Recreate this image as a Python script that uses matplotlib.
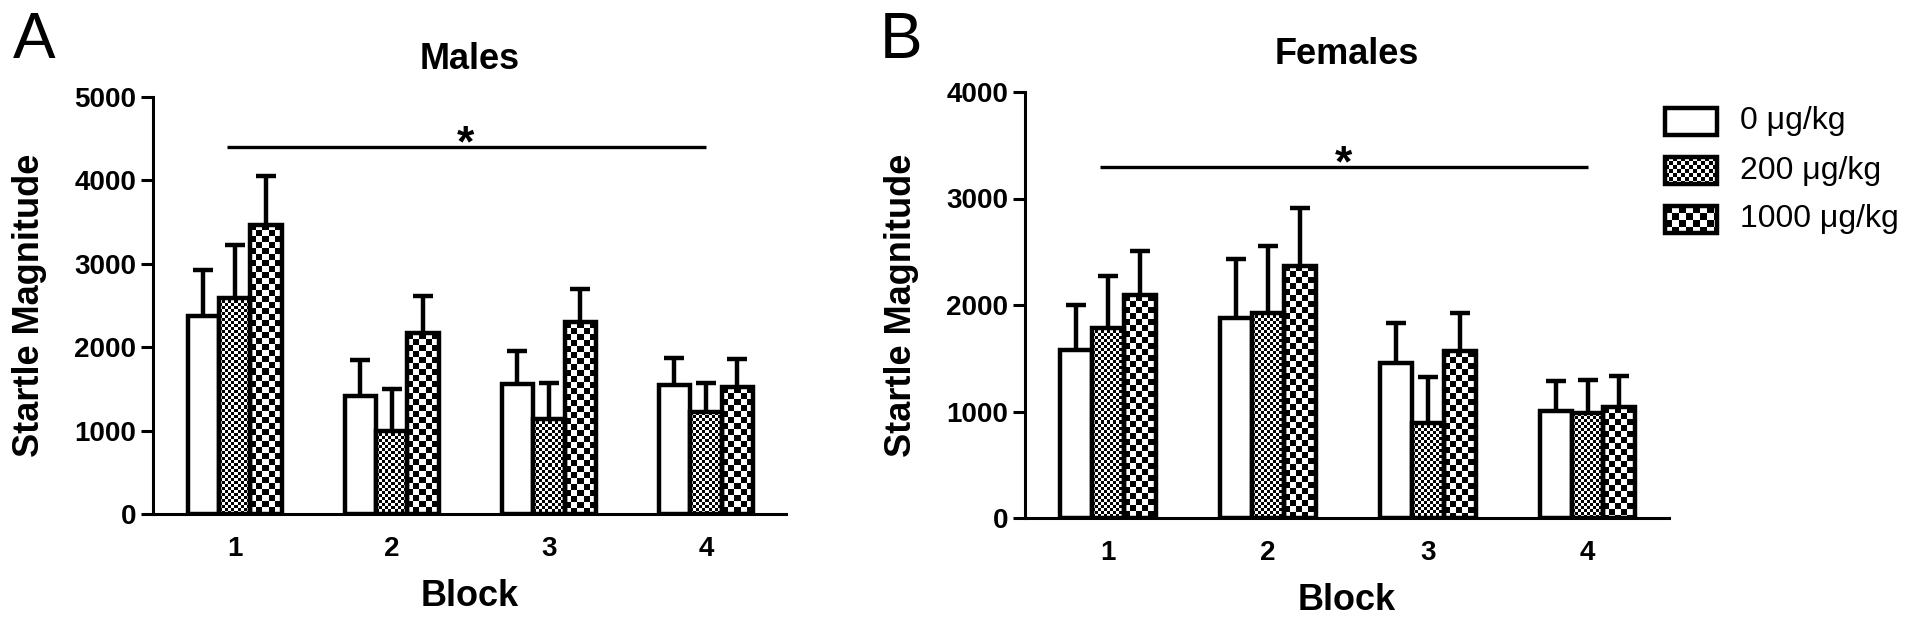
import numpy as np
import matplotlib
matplotlib.use('Agg')
import matplotlib.pyplot as plt
from matplotlib.patches import Rectangle

# data (mean and upper SEM)
blocks = np.array([1, 2, 3, 4])
dose_labels = ['0 μg/kg', '200 μg/kg', '1000 μg/kg']

male_0 = [2380, 1410, 1560, 1550]
male_200 = [2590, 1000, 1140, 1220]
male_1000 = [3470, 2170, 2300, 1520]
male_0_sem = [550, 435, 390, 320]
male_200_sem = [630, 500, 435, 355]
male_1000_sem = [580, 445, 395, 335]

female_0 = [1575, 1880, 1460, 1005]
female_200 = [1785, 1925, 895, 985]
female_1000 = [2090, 2370, 1565, 1040]
female_0_sem = [425, 555, 370, 285]
female_200_sem = [485, 630, 425, 315]
female_1000_sem = [420, 545, 360, 290]

plt.rcParams['font.family'] = ['Liberation Sans', 'DejaVu Sans']

fig = plt.figure(figsize=(19.2, 6.21), dpi=100)

offsets = [-0.2, 0.0, 0.2]
cells = [None, 3, 6]  # checker size in px: none / fine / coarse
LW = 3.2


def checker(w, h, cell):
    yy, xx = np.mgrid[0:h, 0:w]
    return ((xx // cell + yy // cell) % 2).astype(float)


def texture_bar(ax, bar, cell):
    x0 = bar.get_x()
    x1 = x0 + bar.get_width()
    y1 = bar.get_height()
    p0 = ax.transData.transform((x0, 0))
    p1 = ax.transData.transform((x1, y1))
    w = max(1, int(round(p1[0] - p0[0])))
    h = max(1, int(round(p1[1] - p0[1])))
    ax.imshow(checker(w, h, cell), cmap='gray', vmin=0, vmax=1,
              extent=(x0, x1, 0, y1), aspect='auto',
              interpolation='nearest', zorder=2)


def plot_panel(ax, means, sems, title, ymax, sig_y, star_y):
    ax.set_xlim(0.48, 4.51)
    ax.set_ylim(0, ymax)
    for i in range(3):
        xs = blocks + offsets[i]
        bars = ax.bar(xs, means[i], width=0.2, color='white', edgecolor='none', zorder=1)
        if cells[i]:
            for b in bars:
                texture_bar(ax, b, cells[i])
        ax.bar(xs, means[i], width=0.2, fill=False, edgecolor='black',
               linewidth=LW, zorder=3)
        eb = ax.errorbar(xs, means[i], yerr=[np.zeros(len(xs)), sems[i]], fmt='none',
                         ecolor='black', elinewidth=LW, capsize=7.5, capthick=LW,
                         zorder=2.5)
        eb[1][0].set_visible(False)
    # significance line + star
    ax.plot([0.95, 4.0], [sig_y, sig_y], color='black', lw=2.4, solid_capstyle='butt')
    ax.text(2.47, star_y, '*', ha='center', va='baseline', fontsize=32, fontweight='bold')

    ax.set_xlim(0.48, 4.51)
    ax.set_ylim(0, ymax)
    ax.set_yticks(np.arange(0, ymax + 1, 1000))
    ax.set_xticks(blocks)
    ax.spines['top'].set_visible(False)
    ax.spines['right'].set_visible(False)
    ax.spines['left'].set_linewidth(2.2)
    ax.spines['bottom'].set_linewidth(2.2)
    ax.tick_params(axis='y', length=9, width=2.2, pad=3, labelsize=20)
    ax.tick_params(axis='x', length=0, pad=16, labelsize=20)
    for lab in ax.get_xticklabels() + ax.get_yticklabels():
        lab.set_fontweight('bold')
    ax.set_title(title, fontsize=26, fontweight='bold', pad=20)
    ax.set_xlabel('Block', fontsize=26, fontweight='bold', labelpad=12)
    ax.set_ylabel('Startle Magnitude', fontsize=26, fontweight='bold', labelpad=20)


ax1 = fig.add_axes([153 / 1920, 107 / 621, 633 / 1920, 417 / 621])
plot_panel(ax1, [male_0, male_200, male_1000],
           [male_0_sem, male_200_sem, male_1000_sem],
           'Males', 5000, 4400, 4290)

ax2 = fig.add_axes([1025 / 1920, 103 / 621, 644 / 1920, 426 / 621])
plot_panel(ax2, [female_0, female_200, female_1000],
           [female_0_sem, female_200_sem, female_1000_sem],
           'Females', 4000, 3300, 3210)

# overlay in pixel coords for panel letters and legend
lax = fig.add_axes([0, 0, 1, 1])
lax.set_xlim(0, 1920)
lax.set_ylim(621, 0)
lax.axis('off')
lax.text(13, 58, 'A', fontsize=46, va='baseline', ha='left')
lax.text(880, 58, 'B', fontsize=46, va='baseline', ha='left')

for k, label in enumerate(dose_labels):
    top = 108 + 49 * k
    lax.add_patch(Rectangle((1665, top), 52, 27, facecolor='white', edgecolor='none', zorder=1))
    if cells[k]:
        lax.imshow(checker(52, 27, cells[k] + 1), cmap='gray', vmin=0, vmax=1,
                   extent=(1665, 1717, top + 27, top), aspect='auto',
                   interpolation='nearest', zorder=2)
    lax.add_patch(Rectangle((1665, top), 52, 27, fill=False, edgecolor='black',
                            linewidth=LW, zorder=3))
    lax.text(1740, top + 13.5, label, va='center', ha='left', fontsize=23)
lax.set_xlim(0, 1920)
lax.set_ylim(621, 0)

fig.savefig('out.png', dpi=100)
